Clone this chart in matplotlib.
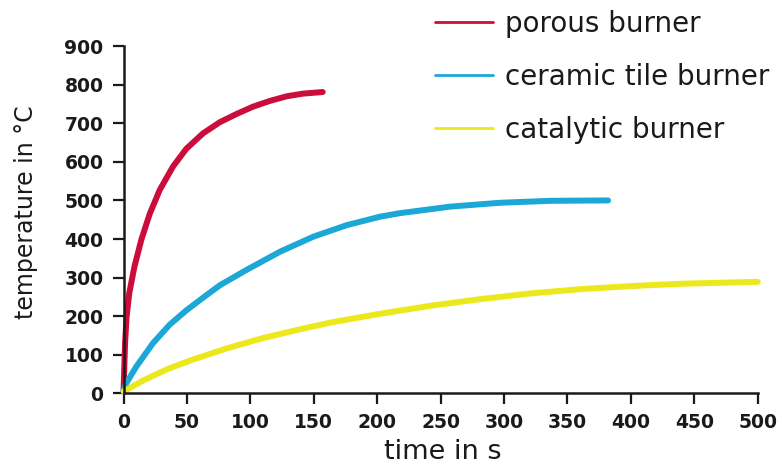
import matplotlib
matplotlib.use("Agg")
import matplotlib.pyplot as plt

# ---- data ----
porous_t = [0, 0.5, 1.2, 2.3, 4.5, 8.7, 14, 20.6, 28.5, 39, 49.5, 62.7, 76, 89, 102, 115.4, 128.6, 141.7, 157]
porous_T = [5, 60, 130, 195, 260, 330, 398, 465, 527, 588, 634, 674, 703, 724, 743, 758, 770, 777, 781]

ceramic_t = [0, 2.1, 10, 23.2, 36.4, 49.5, 62.7, 75.9, 97, 123.3, 149.6, 176, 202.4, 218, 257.7, 297, 336.8, 382]
ceramic_T = [5, 26, 69, 130, 178, 215, 248, 280, 320, 367, 406, 436, 458, 467, 484, 494, 499, 500]

catalytic_t = [0, 15.4, 34, 55, 82, 108.5, 137.8, 164, 202, 242, 281, 321, 360.5, 400, 439.5, 500]
catalytic_T = [5, 33, 62, 88, 117, 142, 165, 184, 206, 227, 244, 259, 270, 278, 284, 289]

series_labels = ["porous burner", "ceramic tile burner", "catalytic burner"]
x_ticks = [0, 50, 100, 150, 200, 250, 300, 350, 400, 450, 500]
y_ticks = [0, 100, 200, 300, 400, 500, 600, 700, 800, 900]

colors = ["#cc0c3a", "#1ba8d6", "#ece81c"]

plt.rcParams['font.family'] = ['DejaVu Sans']

fig = plt.figure(figsize=(7.82, 4.66), dpi=100)
ax = fig.add_axes([0.158, 0.156, 0.811, 0.745])

lines = []
for t, T, c, lab in zip([porous_t, ceramic_t, catalytic_t],
                        [porous_T, ceramic_T, catalytic_T], colors, series_labels):
    ln, = ax.plot(t, T, color=c, lw=4.3, solid_capstyle='round',
                  solid_joinstyle='round', label=lab, clip_on=False)
    lines.append(ln)

ax.set_xlim(0, 500)
ax.set_ylim(0, 900)
ax.set_xticks(x_ticks)
ax.set_yticks(y_ticks)
for s in ['top', 'right']:
    ax.spines[s].set_visible(False)
for s in ['left', 'bottom']:
    ax.spines[s].set_linewidth(1.8)
    ax.spines[s].set_color('#1a1a1a')
ax.tick_params(axis='both', direction='out', length=8, width=1.6, color='#1a1a1a',
               labelsize=13.5)
ax.tick_params(axis='y', pad=6.5)
ax.tick_params(axis='x', pad=6)
for lbl in ax.get_xticklabels() + ax.get_yticklabels():
    lbl.set_fontweight('bold')
    lbl.set_color('#1a1a1a')

ax.set_xlabel("time in s", fontsize=19.5, color='#1a1a1a')
ax.xaxis.set_label_coords(0.504, -0.132)
ax.set_ylabel("temperature in °C", fontsize=17, color='#1a1a1a')
ax.yaxis.set_label_coords(-0.135, 0.522)

leg = fig.legend(handles=lines, labels=series_labels, loc='upper left',
                 bbox_to_anchor=(0.524, 1.033), frameon=False, fontsize=20,
                 handlelength=2.1, handletextpad=0.43, labelspacing=0.9)
for h in leg.legend_handles:
    h.set_linewidth(2)
for t in leg.get_texts():
    t.set_color('#1a1a1a')

fig.savefig("out.png", dpi=100)
